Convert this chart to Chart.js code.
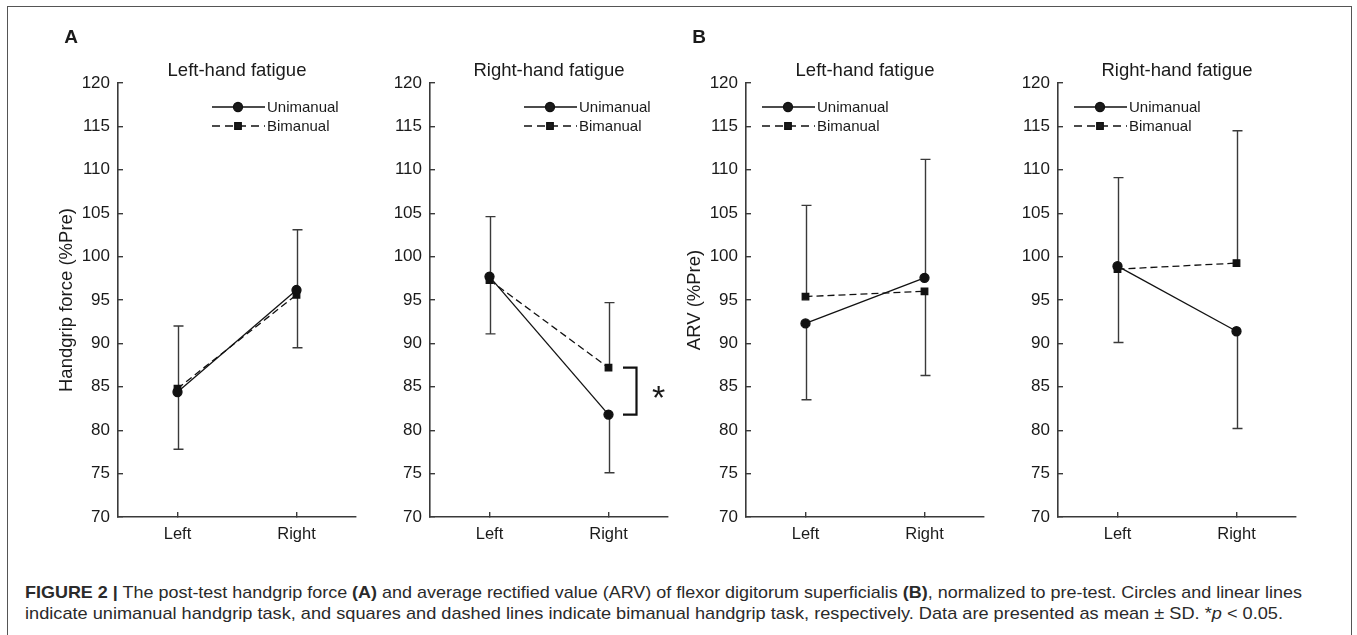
<!DOCTYPE html>
<html><head><meta charset="utf-8">
<script src="https://cdn.jsdelivr.net/npm/chart.js@4.4.0/dist/chart.umd.min.js"></script>
<style>
html,body{margin:0;padding:0;background:#fff;width:1357px;height:635px;overflow:hidden;}
#frame{position:absolute;left:7px;top:6px;width:1345px;height:660px;border:1.5px solid #555;box-sizing:border-box;}
canvas{position:absolute;top:0;}
#cap{position:absolute;left:25px;top:582px;font-family:"Liberation Sans",Arial,sans-serif;font-size:17px;color:#2a2a2a;line-height:21px;white-space:nowrap;}
#cap div{display:block;width:max-content;transform-origin:0 50%;}
</style></head>
<body>
<div id="frame"></div>
<canvas id="c0" width="383" height="560"></canvas>
<canvas id="c1" width="383" height="560"></canvas>
<canvas id="c2" width="383" height="560"></canvas>
<canvas id="c3" width="383" height="560"></canvas>
<div id="cap">
<div id="l1"><b>FIGURE 2 |</b> The post-test handgrip force <b>(A)</b> and average rectified value (ARV) of flexor digitorum superficialis <b>(B)</b>, normalized to pre-test. Circles and linear lines</div>
<div id="l2">indicate unimanual handgrip task, and squares and dashed lines indicate bimanual handgrip task, respectively. Data are presented as mean ± SD. *<i>p</i> &lt; 0.05.</div>
</div>
<script>
// ---------------- data ----------------
const categories = ['Left', 'Right'];
const seriesNames = ['Unimanual', 'Bimanual'];
const yMin = 70, yMax = 120, yStep = 5;
const panelTitles = ['Left-hand fatigue', 'Right-hand fatigue', 'Left-hand fatigue', 'Right-hand fatigue'];
const yAxisTitles = ['Handgrip force (%Pre)', '', 'ARV (%Pre)', ''];
const panelLetters = ['A', '', 'B', ''];

// (A) handgrip force, left-hand fatigue
const forceLeftUni = [84.4, 96.15];
const forceLeftBi = [84.8, 95.6];
const forceLeftErrHigh = [92.0, 103.1];
const forceLeftErrLow = [77.8, 89.5];
// (A) handgrip force, right-hand fatigue
const forceRightUni = [97.7, 81.8];
const forceRightBi = [97.3, 87.2];
const forceRightErrHigh = [104.6, 94.7];
const forceRightErrLow = [91.1, 75.1];
// (B) ARV, left-hand fatigue
const arvLeftUni = [92.3, 97.55];
const arvLeftBi = [95.4, 96.0];
const arvLeftErrHigh = [105.9, 111.2];
const arvLeftErrLow = [83.5, 86.3];
// (B) ARV, right-hand fatigue
const arvRightUni = [98.9, 91.4];
const arvRightBi = [98.55, 99.25];
const arvRightErrHigh = [109.1, 114.5];
const arvRightErrLow = [90.1, 80.2];

// significance marker: panel index, category index, label
const significance = [{panel: 1, cat: 1, label: '*'}];

const panelData = [
  {uni: forceLeftUni, bi: forceLeftBi, hi: forceLeftErrHigh, lo: forceLeftErrLow},
  {uni: forceRightUni, bi: forceRightBi, hi: forceRightErrHigh, lo: forceRightErrLow},
  {uni: arvLeftUni, bi: arvLeftBi, hi: arvLeftErrHigh, lo: arvLeftErrLow},
  {uni: arvRightUni, bi: arvRightBi, hi: arvRightErrHigh, lo: arvRightErrLow}
];

// ---------------- layout ----------------
const chartLefts = [118, 430, 746.3, 1058.3];
const Y_AXIS_W = 100, PAD_R = 45, PAD_T = 83, X_AXIS_H = 43;
const legendOffsets = [94, 94, 16, 16];
const FONT = '"Liberation Sans", Arial, Helvetica, sans-serif';
const INK = '#1a1a1a';
const AXIS = '#3a3a3a';

Chart.defaults.font.family = FONT;
Chart.defaults.color = INK;

const annot = {
  id: 'annot',
  beforeDatasetsDraw(chart) {
    const o = chart.options.plugins.annot;
    const ctx = chart.ctx, xs = chart.scales.x, ys = chart.scales.y;
    const d = o.data;
    ctx.save();
    ctx.strokeStyle = AXIS; ctx.lineWidth = 1.4;
    categories.forEach((c, i) => {
      const x = Math.round(xs.getPixelForValue(i)) + 0.5;
      const top = Math.max(d.uni[i], d.bi[i]);
      const bot = Math.min(d.uni[i], d.bi[i]);
      const yh = ys.getPixelForValue(d.hi[i]), yt = ys.getPixelForValue(top);
      const yl = ys.getPixelForValue(d.lo[i]), yb = ys.getPixelForValue(bot);
      ctx.beginPath();
      ctx.moveTo(x, yt); ctx.lineTo(x, yh);
      ctx.moveTo(x - 5, yh); ctx.lineTo(x + 5, yh);
      ctx.moveTo(x, yb); ctx.lineTo(x, yl);
      ctx.moveTo(x - 5, yl); ctx.lineTo(x + 5, yl);
      ctx.stroke();
    });
    ctx.restore();
  },
  afterDraw(chart) {
    const o = chart.options.plugins.annot;
    const ctx = chart.ctx, ca = chart.chartArea, xs = chart.scales.x, ys = chart.scales.y;
    ctx.save();
    ctx.fillStyle = INK;
    // title
    ctx.font = '18.5px ' + FONT;
    ctx.textAlign = 'center'; ctx.textBaseline = 'middle';
    ctx.fillText(o.title, (ca.left + ca.right) / 2, ca.top - 12);
    // panel letter
    if (o.letter) {
      ctx.font = 'bold 19px ' + FONT;
      ctx.fillText(o.letter, ca.left - 47, ca.top - 45);
    }
    // y axis title
    if (o.yTitle) {
      ctx.save();
      ctx.translate(ca.left - 51, (ca.top + ca.bottom) / 2);
      ctx.rotate(-Math.PI / 2);
      ctx.font = '18.5px ' + FONT;
      ctx.fillText(o.yTitle, 0, 0);
      ctx.restore();
    }
    // legend
    const lx = ca.left + o.legendX;
    chart.data.datasets.forEach((ds, k) => {
      const y = ca.top + 24 + k * 19;
      ctx.save();
      ctx.strokeStyle = ds.borderColor; ctx.lineWidth = 1.3;
      ctx.setLineDash(ds.borderDash && ds.borderDash.length ? [8, 5] : []);
      ctx.beginPath(); ctx.moveTo(lx, y); ctx.lineTo(lx + 53, y); ctx.stroke();
      ctx.setLineDash([]);
      Chart.helpers.drawPoint(ctx, {pointStyle: ds.pointStyle, radius: ds.pointRadius, borderWidth: 1}, lx + 26, y);
      ctx.fillStyle = INK;
      ctx.font = '15px ' + FONT;
      ctx.textAlign = 'left'; ctx.textBaseline = 'middle';
      ctx.fillText(ds.label, lx + 55, y + 1);
      ctx.restore();
    });
    // significance
    (o.sig || []).forEach(s => {
      const x = xs.getPixelForValue(s.cat);
      const d = o.data;
      const y1 = ys.getPixelForValue(d.bi[s.cat]), y2 = ys.getPixelForValue(d.uni[s.cat]);
      ctx.strokeStyle = '#111'; ctx.lineWidth = 2.2;
      ctx.beginPath();
      ctx.moveTo(x + 14.5, y1); ctx.lineTo(x + 28, y1); ctx.lineTo(x + 28, y2); ctx.lineTo(x + 14.5, y2);
      ctx.stroke();
      ctx.font = '34px ' + FONT;
      ctx.textAlign = 'center'; ctx.textBaseline = 'alphabetic';
      ctx.fillText(s.label, x + 50, (y1 + y2) / 2 + 18);
    });
    ctx.restore();
  }
};

panelData.forEach((d, p) => {
  const cv = document.getElementById('c' + p);
  cv.style.left = (chartLefts[p] - Y_AXIS_W) + 'px';
  new Chart(cv, {
    type: 'line',
    data: {
      labels: categories,
      datasets: [
        {label: seriesNames[0], data: d.uni, borderColor: '#111', backgroundColor: '#111',
         borderWidth: 1.3, pointStyle: 'circle', pointRadius: 4.5, pointBackgroundColor: '#111',
         pointBorderColor: '#111', borderDash: []},
        {label: seriesNames[1], data: d.bi, borderColor: '#111', backgroundColor: '#111',
         borderWidth: 1.3, pointStyle: 'rect', pointRadius: 4.6, pointBackgroundColor: '#111',
         pointBorderColor: '#111', borderDash: [7, 4]}
      ]
    },
    options: {
      responsive: false, animation: false, devicePixelRatio: 1,
      layout: {padding: {left: 0, right: PAD_R, top: PAD_T, bottom: 0}},
      plugins: {
        legend: {display: false}, tooltip: {enabled: false}, title: {display: false},
        annot: {data: d, title: panelTitles[p], yTitle: yAxisTitles[p], letter: panelLetters[p],
                legendX: legendOffsets[p], sig: significance.filter(s => s.panel === p)}
      },
      scales: {
        x: {
          type: 'category', offset: true,
          grid: {display: true, drawOnChartArea: false, drawTicks: true, tickLength: -5, offset: false, color: AXIS, lineWidth: 1.4},
          border: {display: true, color: AXIS, width: 1.6},
          ticks: {padding: 13, font: {size: 16.5}, color: INK, maxRotation: 0},
          afterFit(s) { s.height = X_AXIS_H; }
        },
        y: {
          min: yMin, max: yMax,
          grid: {display: true, drawOnChartArea: false, drawTicks: true, tickLength: -5, color: AXIS, lineWidth: 1.4},
          border: {display: true, color: AXIS, width: 1.6},
          ticks: {stepSize: yStep, padding: 13, font: {size: 17}, color: INK},
          afterFit(s) { s.width = Y_AXIS_W; }
        }
      }
    },
    plugins: [annot]
  });
});

// caption fit
const targets = {l1: 1277, l2: 1258};
Object.keys(targets).forEach(id => {
  const el = document.getElementById(id);
  const w = el.getBoundingClientRect().width;
  el.style.transform = 'scaleX(' + (targets[id] / w) + ')';
});
</script>
</body></html>
